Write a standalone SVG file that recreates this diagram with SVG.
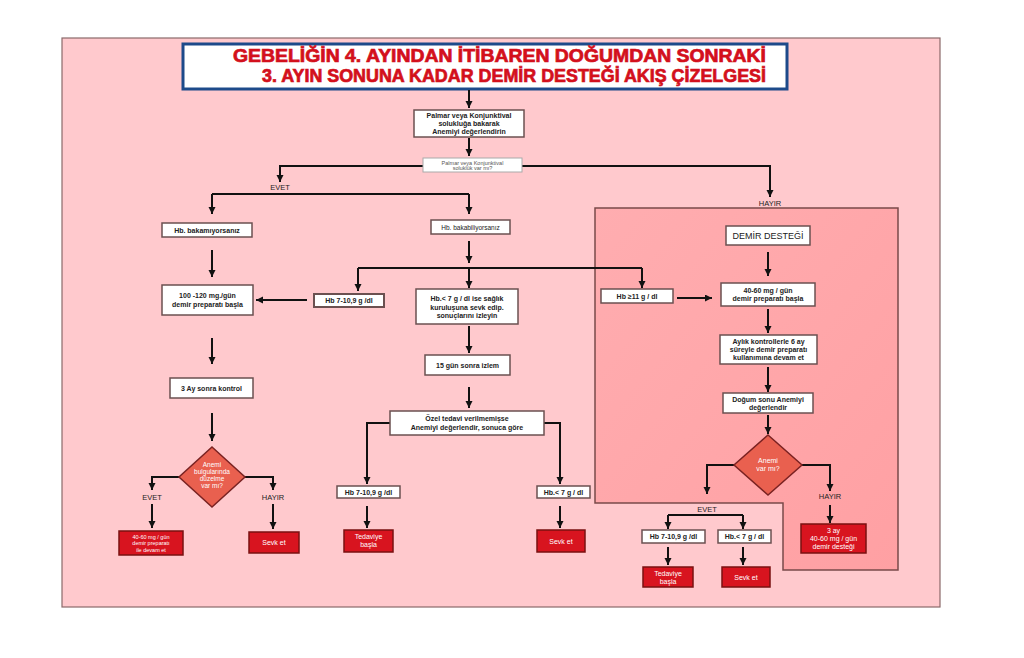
<svg xmlns="http://www.w3.org/2000/svg" width="1024" height="658" viewBox="0 0 1024 658">
<defs>
<marker id="ah" markerWidth="8" markerHeight="8" refX="7" refY="3.5" orient="auto" markerUnits="userSpaceOnUse">
<path d="M0,0 L7,3.5 L0,7 z" fill="#111"/>
</marker>
<linearGradient id="rg" x1="0" y1="0" x2="1" y2="1">
<stop offset="0" stop-color="#FFADB0"/>
<stop offset="1" stop-color="#FFA0A3"/>
</linearGradient>
<style>
.bx{fill:#fff;stroke:#6b5050;stroke-width:1.5}
.rd{fill:#D8141F;stroke:#7a1010;stroke-width:1.5}
.dm{fill:#E9604F;stroke:#7a2222;stroke-width:1.5}
.t{font-family:"Liberation Sans",Arial,sans-serif;font-weight:bold;font-size:7px;fill:#222;text-anchor:middle}
.tr{font-family:"Liberation Sans",Arial,sans-serif;font-size:7px;fill:#222;text-anchor:middle}
.tw{font-family:"Liberation Sans",Arial,sans-serif;font-size:7px;fill:#fff;text-anchor:middle}
.lb{font-family:"Liberation Sans",Arial,sans-serif;font-size:7.5px;fill:#222;text-anchor:middle}
.ttl{font-family:"Liberation Sans",Arial,sans-serif;font-weight:bold;font-size:18px;fill:#D3101C;stroke:#D3101C;stroke-width:0.7}
.c{fill:none;stroke:#111;stroke-width:2}
.ca{fill:none;stroke:#111;stroke-width:2;marker-end:url(#ah)}
</style>
</defs>
<rect width="1024" height="658" fill="#fff"/>
<rect x="62" y="38" width="878" height="569" fill="#FFC9CD" stroke="#8a6a6a" stroke-width="1.2"/>
<path d="M595,208 H898 V570 H783 V503 H595 Z" fill="url(#rg)" stroke="#7a4a4a" stroke-width="1.5"/>

<g id="title">
<rect x="183" y="44" width="604" height="45" fill="#fff" stroke="#1d4a8a" stroke-width="3"/>
<text class="ttl" x="233" y="62" textLength="533" lengthAdjust="spacingAndGlyphs">GEBELİĞİN 4. AYINDAN İTİBAREN DOĞUMDAN SONRAKİ</text>
<text class="ttl" x="262" y="82" textLength="504" lengthAdjust="spacingAndGlyphs">3. AYIN SONUNA KADAR DEMİR DESTEĞİ AKIŞ ÇİZELGESİ</text>
</g>

<g id="connectors">
<path class="ca" d="M469,90 V108"/>
<path class="ca" d="M469,138 V156"/>
<path class="ca" d="M423,166 H280 V182"/>
<path class="ca" d="M522,166 H770 V197"/>
<path class="c" d="M212,194 H469"/>
<path class="ca" d="M212,194 V214"/>
<path class="ca" d="M469,194 V214"/>
<path class="ca" d="M212,250 V277"/>
<path class="ca" d="M469,241 V263"/>
<path class="c" d="M358,268 H642"/>
<path class="ca" d="M358,268 V291"/>
<path class="ca" d="M469,268 V288"/>
<path class="ca" d="M642,268 V288"/>
<path class="ca" d="M307,300 H256"/>
<path class="ca" d="M212,338 V364"/>
<path class="ca" d="M212,413 V441"/>
<path class="ca" d="M179,477 H152 V490"/>
<path class="ca" d="M245,477 H273 V490"/>
<path class="ca" d="M152,504 V528"/>
<path class="ca" d="M273,504 V529"/>
<path class="ca" d="M469,326 V353"/>
<path class="ca" d="M469,387 V408"/>
<path class="ca" d="M390,423 H367 V484"/>
<path class="ca" d="M544,423 H560 V484"/>
<path class="ca" d="M367,506 V528"/>
<path class="ca" d="M560,506 V528"/>
<path class="ca" d="M768,252 V276"/>
<path class="ca" d="M677,298 H712"/>
<path class="ca" d="M768,309 V333"/>
<path class="ca" d="M768,367 V392"/>
<path class="ca" d="M768,415 V434"/>
<path class="ca" d="M736,465 H707 V494"/>
<path class="ca" d="M802,465 H830 V491"/>
<path class="ca" d="M830,505 V523"/>
<path class="c" d="M668,515 H743"/>
<path class="ca" d="M668,515 V529"/>
<path class="ca" d="M743,515 V529"/>
<path class="ca" d="M668,547 V565"/>
<path class="ca" d="M743,547 V565"/>
<text class="lb" x="280" y="190">EVET</text>
<text class="lb" x="770" y="206">HAYIR</text>
<text class="lb" x="152" y="500">EVET</text>
<text class="lb" x="273" y="500">HAYIR</text>
<text class="lb" x="830" y="499">HAYIR</text>
<text class="lb" x="707" y="512">EVET</text>
</g>

<g id="n-palmar">
<rect class="bx" x="414" y="110" width="110" height="27"/>
<text class="t" x="469" y="118">Palmar veya Konjunktival</text>
<text class="t" x="469" y="126">solukluğa bakarak</text>
<text class="t" x="469" y="134">Anemiyi değerlendirin</text>
</g>
<g id="n-soru">
<rect x="423" y="158" width="99" height="14" fill="#fff" stroke="#aaa" stroke-width="1"/>
<text class="tr" x="472.5" y="164.5" style="font-size:5.5px;fill:#555">Palmar veya Konjunktival</text>
<text class="tr" x="472.5" y="170" style="font-size:5.5px;fill:#555">soluklük var mı?</text>
</g>
<g id="n-bakamiyor">
<rect class="bx" x="162" y="223" width="90" height="14"/>
<text class="t" x="207" y="232.5">Hb. bakamıyorsanız</text>
</g>
<g id="n-bakabil">
<rect class="bx" x="431" y="220" width="79" height="14"/>
<text class="tr" x="470.5" y="229.5" style="font-size:6.5px">Hb. bakabiliyorsanız</text>
</g>
<g id="n-100">
<rect class="bx" x="162" y="285" width="91" height="30"/>
<text class="t" x="207.5" y="298">100 -120 mg./gün</text>
<text class="t" x="207.5" y="307">demir preparatı başla</text>
</g>
<g id="n-hb7a">
<rect class="bx" x="314" y="294" width="70" height="13" style="stroke-width:2"/>
<text class="t" x="349" y="303">Hb 7-10,9 g /dl</text>
</g>
<g id="n-hbl7a">
<rect class="bx" x="416" y="289" width="102" height="35"/>
<text class="t" x="467" y="301">Hb.&lt; 7 g / dl ise sağlık</text>
<text class="t" x="467" y="309.5">kuruluşuna sevk edip.</text>
<text class="t" x="467" y="318">sonuçlarını izleyin</text>
</g>
<g id="n-15gun">
<rect class="bx" x="425" y="355" width="85" height="20"/>
<text class="t" x="467.5" y="367.5">15 gün sonra izlem</text>
</g>
<g id="n-ozel">
<rect class="bx" x="390" y="411" width="154" height="24"/>
<text class="t" x="467" y="421">Özel tedavi verilmemişse</text>
<text class="t" x="467" y="430">Anemiyi değerlendir, sonuca göre</text>
</g>
<g id="n-hb7b">
<rect class="bx" x="337" y="486" width="63" height="12"/>
<text class="t" x="368.5" y="494.5">Hb 7-10,9 g /dl</text>
</g>
<g id="n-hbl7b">
<rect class="bx" x="537" y="486" width="53" height="12"/>
<text class="t" x="563.5" y="494.5">Hb.&lt; 7 g / dl</text>
</g>
<g id="n-ted1">
<rect class="rd" x="344" y="530" width="49" height="22"/>
<text class="tw" x="368.5" y="539">Tedaviye</text>
<text class="tw" x="368.5" y="547">başla</text>
</g>
<g id="n-sevk1">
<rect class="rd" x="537" y="530" width="48" height="22"/>
<text class="tw" x="561" y="543.5">Sevk et</text>
</g>
<g id="n-3ay">
<rect class="bx" x="170" y="378" width="83" height="20"/>
<text class="t" x="211.5" y="390.5">3 Ay sonra kontrol</text>
</g>
<g id="n-d1">
<path class="dm" d="M212,447 L245,477 L212,507 L179,477 Z"/>
<text class="tw" x="212" y="467" style="font-size:6.5px">Anemi</text>
<text class="tw" x="212" y="474" style="font-size:6.5px">bulgularında</text>
<text class="tw" x="212" y="481" style="font-size:6.5px">düzelme</text>
<text class="tw" x="212" y="488" style="font-size:6.5px">var mı?</text>
</g>
<g id="n-red1">
<rect class="rd" x="119" y="531" width="64" height="24"/>
<text class="tw" x="151" y="538.5" style="font-size:5.5px">40-60 mg / gün</text>
<text class="tw" x="151" y="545" style="font-size:5.5px">demir preparatı</text>
<text class="tw" x="151" y="551.5" style="font-size:5.5px">ile devam et</text>
</g>
<g id="n-sevk0">
<rect class="rd" x="249" y="532" width="50" height="21"/>
<text class="tw" x="274" y="545">Sevk et</text>
</g>
<g id="n-demir">
<rect class="bx" x="726" y="226" width="84" height="19"/>
<text class="tr" x="768" y="239" style="font-size:9px">DEMİR DESTEĞİ</text>
</g>
<g id="n-4060">
<rect class="bx" x="721" y="283" width="94" height="23"/>
<text class="t" x="768" y="292.5">40-60 mg / gün</text>
<text class="t" x="768" y="301">demir preparatı başla</text>
</g>
<g id="n-hb11">
<rect class="bx" x="601" y="289" width="72" height="14"/>
<text class="t" x="637" y="298.5">Hb ≥11 g / dl</text>
</g>
<g id="n-aylik">
<rect class="bx" x="720" y="335" width="97" height="29"/>
<text class="t" x="768.5" y="344">Aylık kontrollerle 6 ay</text>
<text class="t" x="768.5" y="352">süreyle demir preparatı</text>
<text class="t" x="768.5" y="360">kullanımına devam et</text>
</g>
<g id="n-dogum">
<rect class="bx" x="723" y="393" width="90" height="20"/>
<text class="t" x="768" y="401.5">Doğum sonu Anemiyi</text>
<text class="t" x="768" y="409.5">değerlendir</text>
</g>
<g id="n-d2">
<path class="dm" d="M768,435 L802,465 L768,495 L734,465 Z"/>
<text class="tw" x="768" y="463" style="font-size:7px">Anemi</text>
<text class="tw" x="768" y="471" style="font-size:7px">var mı?</text>
</g>
<g id="n-red3">
<rect class="rd" x="801" y="524" width="65" height="29"/>
<text class="tw" x="833.5" y="533">3 ay</text>
<text class="tw" x="833.5" y="541">40-60 mg / gün</text>
<text class="tw" x="833.5" y="549">demir desteği</text>
</g>
<g id="n-hb7c">
<rect class="bx" x="642" y="530" width="63" height="13"/>
<text class="t" x="673.5" y="539">Hb 7-10,9 g /dl</text>
</g>
<g id="n-hbl7c">
<rect class="bx" x="718" y="530" width="53" height="13"/>
<text class="t" x="744.5" y="539">Hb.&lt; 7 g / dl</text>
</g>
<g id="n-ted2">
<rect class="rd" x="643" y="567" width="50" height="20"/>
<text class="tw" x="668" y="575.5">Tedaviye</text>
<text class="tw" x="668" y="583.5">başla</text>
</g>
<g id="n-sevk2">
<rect class="rd" x="722" y="567" width="48" height="20"/>
<text class="tw" x="746" y="579.5">Sevk et</text>
</g>
</svg>
